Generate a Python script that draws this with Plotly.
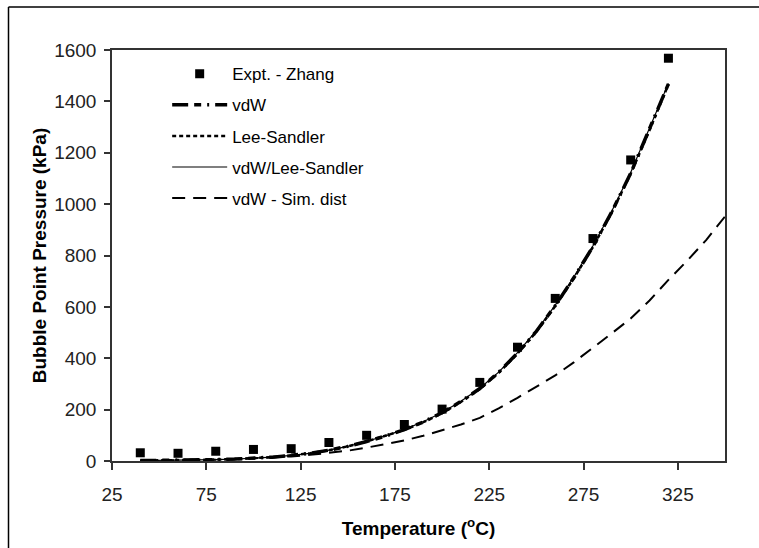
import plotly.graph_objects as go

# ---------------- data ----------------
T_exp = [40, 60, 80, 100, 120, 140, 160, 180, 200, 220, 240, 260, 280, 300, 320]
P_exp = [32, 30, 38, 45, 48, 72, 100, 142, 202, 306, 443, 633, 866, 1172, 1568]

T_model = [40, 50, 60, 70, 80, 90, 100, 110, 120, 130, 140, 150, 160, 170, 180,
           190, 200, 210, 220, 230, 240, 250, 260, 270, 280, 290, 300, 310, 320]
P_vdw = [1.5, 2, 3, 4, 5.5, 7.5, 10.5, 15, 22, 30, 42, 57, 76, 97, 122,
         152, 188, 232, 282, 345, 420, 505, 605, 715, 835, 970, 1120, 1290, 1468]
P_lee_sandler = [1.5, 2, 3, 4, 5.5, 7.5, 10.5, 15, 22, 30, 42, 57, 76, 97, 121,
                 151, 186, 230, 280, 343, 418, 503, 603, 713, 833, 968, 1118, 1288, 1466]
P_vdw_ls = [1.5, 2, 3, 4, 5.5, 7.5, 10.5, 15, 22, 30, 42, 57, 77, 98, 123,
            153, 189, 233, 283, 346, 422, 507, 607, 718, 838, 973, 1123, 1293, 1470]

T_sim = [40, 50, 60, 70, 80, 90, 100, 110, 120, 130, 140, 150, 160, 170, 180, 190,
         200, 210, 220, 230, 240, 250, 260, 270, 280, 290, 300, 310, 320, 330, 340, 350]
P_sim = [1, 1.5, 2.5, 3.5, 5, 7, 10, 13.5, 18, 24, 31, 40, 52, 65, 80, 98,
         120, 142, 168, 205, 246, 288, 333, 385, 440, 497, 555, 625, 705, 780, 860, 952]

x_ticks = [25, 75, 125, 175, 225, 275, 325]
y_ticks = [0, 200, 400, 600, 800, 1000, 1200, 1400, 1600]

FONT = "Liberation Sans, Arial, sans-serif"

fig = go.Figure()
fig.add_trace(go.Scatter(x=T_exp, y=P_exp, mode="markers", name="Expt. - Zhang",
                         legendgroup="a",
                         marker=dict(symbol="square", size=9, color="black")))
fig.add_trace(go.Scatter(x=T_model, y=P_vdw, mode="lines", name="vdW", legendgroup="b",
                         line=dict(color="black", width=3.5, dash="16px,6px,7px,6px,2px,6px")))
fig.add_trace(go.Scatter(x=T_model, y=P_lee_sandler, mode="lines", name="Lee-Sandler",
                         legendgroup="c",
                         line=dict(color="black", width=2.5, dash="4px,3px")))
fig.add_trace(go.Scatter(x=T_model, y=P_vdw_ls, mode="lines", name="vdW/Lee-Sandler",
                         legendgroup="d",
                         line=dict(color="black", width=1.2)))
fig.add_trace(go.Scatter(x=T_sim, y=P_sim, mode="lines", name="vdW - Sim. dist",
                         legendgroup="e",
                         line=dict(color="black", width=2, dash="13px,8px")))

# outer frame (left and top edges of the pasted figure)
fx0 = (8.5 - 112) / 613
fy_top = (461 - 7) / 411
fy_bot = (461 - 548) / 411
fx_right = (759 - 112) / 613
fig.add_shape(type="line", xref="paper", yref="paper", x0=fx0, x1=fx0, y0=fy_bot, y1=fy_top,
              line=dict(color="black", width=1.5))
fig.add_shape(type="line", xref="paper", yref="paper", x0=fx0, x1=fx_right, y0=fy_top, y1=fy_top,
              line=dict(color="black", width=1.5))

fig.update_layout(
    width=759, height=548,
    margin=dict(l=112, r=34, t=50, b=87),
    paper_bgcolor="white", plot_bgcolor="white",
    showlegend=True,
    legend=dict(x=0.09, y=0.985, xanchor="left", yanchor="top",
                bgcolor="rgba(0,0,0,0)", borderwidth=0,
                traceorder="grouped", tracegroupgap=6, itemwidth=55,
                font=dict(family=FONT, size=17, color="black")),
    xaxis=dict(range=[25, 350], tickmode="array", tickvals=x_ticks,
               ticks="outside", ticklen=7, tickwidth=1.5, tickcolor="#333",
               showline=True, linecolor="#333", linewidth=1.5, mirror=True,
               showgrid=False, zeroline=False, ticklabelstandoff=8,
               tickfont=dict(family=FONT, size=19, color="#222"),
               title=dict(text="<b>Temperature (<sup>o</sup>C)</b>", standoff=18,
                          font=dict(family=FONT, size=19, color="black"))),
    yaxis=dict(range=[0, 1600], tickmode="array", tickvals=y_ticks,
               ticks="outside", ticklen=6, tickwidth=1.5, tickcolor="#333",
               showline=True, linecolor="#333", linewidth=1.5, mirror=True,
               showgrid=False, zeroline=False, ticklabelstandoff=4,
               tickfont=dict(family=FONT, size=19, color="#222"),
               title=dict(text="<b>Bubble Point Pressure (kPa)</b>", standoff=3,
                          font=dict(family=FONT, size=19, color="black"))),
)

fig.write_html("out.html")
